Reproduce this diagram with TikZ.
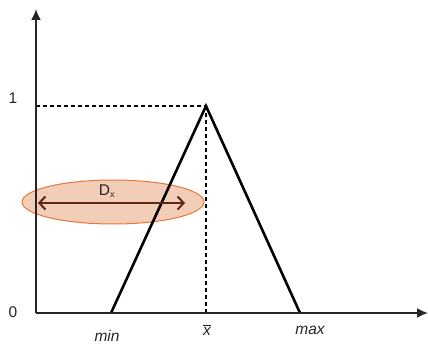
\documentclass[tikz,border=0pt]{standalone}
\usepackage{fontspec}
\setmainfont{Liberation Sans}
\usepackage{xcolor}
\usetikzlibrary{arrows.meta,positioning,shapes.geometric}
\definecolor{ellfill}{RGB}{240,196,172}
\definecolor{elldraw}{RGB}{232,118,60}
\definecolor{arrbrown}{RGB}{96,38,22}

\begin{document}
\begin{tikzpicture}[x=1pt,y=-1pt,
  font=\fontsize{15.5}{18}\selectfont,
  axis/.style={-{Latex[length=11pt,width=10pt]}, line width=1.8pt, black!85},
  tri/.style={line width=2.6pt, black},
  guide/.style={dash pattern=on 4pt off 3pt, line width=1.3pt, black},
  lbl/.style={inner sep=1pt, text=black!85},
  spread/.style={ellipse, draw=elldraw, fill=ellfill, fill opacity=0.85, line width=1pt,
                 minimum width=182pt, minimum height=44pt, inner sep=0pt},
  dx/.style={{Straight Barb[length=6pt,width=13pt]}-{Straight Barb[length=6pt,width=13pt]}, line width=2pt, arrbrown}]
  \useasboundingbox (0,0) rectangle (428,347);
  \coordinate (o) at (36,313);
  \coordinate (ytop) at (36,9);
  \coordinate (xend) at (428,313);
  \coordinate (one) at (36,106);
  \coordinate (peak) at (206,106);
  \coordinate (xbar) at (206,313);
  \coordinate (lo) at (111,313);
  \coordinate (hi) at (300,313);
  \node[spread] (ell) at (113,202) {};
  \coordinate (dl) at (38,203);
  \coordinate (dr) at (185,203);
  \draw[guide] (one) -- (peak);
  \draw[guide] (peak) -- (xbar);
  \draw[tri] (lo) -- (peak) -- (hi);
  \draw[axis] (o) -- (ytop);
  \draw[axis] (o) -- (xend);
  \draw[dx] (dl) -- (dr);
  \node[lbl] (dxl) at (107,191) {D\textsubscript{\fontsize{9}{10}\selectfont x}};
  \node[lbl] (l1) at (13,98) {1};
  \node[lbl] (l0) at (13,312) {0};
  \node[lbl] (lmin) at (107,336) {\itshape min};
  \node[lbl] (lxbar) at (207,330) {$\overline{\textit{x}}$};
  \node[lbl] (lmax) at (310,330) {\itshape max};
\end{tikzpicture}
\end{document}
